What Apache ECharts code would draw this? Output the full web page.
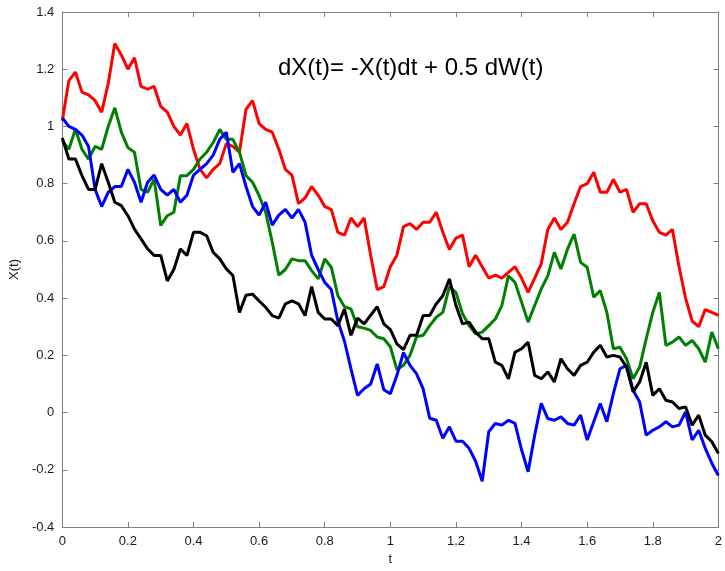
<!DOCTYPE html>
<html>
<head>
<meta charset="utf-8">
<script src="https://cdn.jsdelivr.net/npm/echarts@6/dist/echarts.min.js"></script>
<style>
  html, body { margin: 0; padding: 0; background: #fff; }
  #chart { width: 725px; height: 571px; }
</style>
</head>
<body>
<div id="chart"></div>
<script>
// Four sample paths of dX(t) = -X(t)dt + 0.5 dW(t), sampled every 0.02 on [0, 2]
const T_STEP = 0.02;
const T_COUNT = 101;

const redPath = [
  1.02, 1.16, 1.19, 1.12, 1.11, 1.09, 1.05, 1.15, 1.29, 1.25,
  1.20, 1.24, 1.14, 1.13, 1.14, 1.07, 1.05, 1.00, 0.97, 1.01,
  0.92, 0.85, 0.82, 0.85, 0.87, 0.94, 0.93, 0.91, 1.06, 1.09,
  1.01, 0.99, 0.98, 0.92, 0.85, 0.83, 0.73, 0.75, 0.79, 0.76,
  0.72, 0.71, 0.63, 0.62, 0.68, 0.65, 0.68, 0.55, 0.43, 0.44,
  0.51, 0.55, 0.65, 0.66, 0.64, 0.665, 0.665, 0.70, 0.63, 0.57,
  0.61, 0.62, 0.51, 0.55, 0.51, 0.47, 0.48, 0.47, 0.49, 0.51,
  0.47, 0.42, 0.47, 0.52, 0.64, 0.68, 0.64, 0.665, 0.73, 0.79,
  0.80, 0.84, 0.77, 0.77, 0.815, 0.77, 0.78, 0.70, 0.73, 0.73,
  0.67, 0.63, 0.62, 0.64, 0.51, 0.40, 0.32, 0.30, 0.36, 0.35,
  0.34
];

const greenPath = [
  0.95, 0.92, 0.99, 0.92, 0.886, 0.93, 0.92, 1.00, 1.065, 0.98,
  0.926, 0.91, 0.78, 0.77, 0.816, 0.654, 0.688, 0.70, 0.828, 0.828,
  0.85, 0.886, 0.91, 0.944, 0.99, 0.955, 0.955, 0.91, 0.828, 0.805,
  0.758, 0.70, 0.595, 0.48, 0.50, 0.537, 0.531, 0.531, 0.496, 0.467,
  0.537, 0.508, 0.409, 0.37, 0.362, 0.30, 0.295, 0.287, 0.264, 0.258,
  0.23, 0.15, 0.165, 0.20, 0.265, 0.27, 0.304, 0.333, 0.35, 0.44,
  0.42, 0.345, 0.304, 0.275, 0.281, 0.304, 0.327, 0.374, 0.478, 0.455,
  0.386, 0.316, 0.374, 0.432, 0.478, 0.56, 0.502, 0.571, 0.624, 0.525,
  0.508, 0.403, 0.426, 0.35, 0.223, 0.228, 0.188, 0.118, 0.159, 0.258,
  0.35, 0.42, 0.235, 0.246, 0.264, 0.235, 0.252, 0.223, 0.176, 0.281,
  0.223
];

const bluePath = [
  1.03, 1.00, 0.99, 0.97, 0.93, 0.78, 0.72, 0.77, 0.79, 0.79,
  0.85, 0.805, 0.735, 0.805, 0.83, 0.78, 0.76, 0.78, 0.735, 0.76,
  0.83, 0.85, 0.87, 0.90, 0.955, 0.98, 0.84, 0.87, 0.79, 0.72,
  0.69, 0.735, 0.655, 0.69, 0.71, 0.68, 0.71, 0.665, 0.55, 0.50,
  0.455, 0.43, 0.32, 0.25, 0.153, 0.06, 0.083, 0.10, 0.17, 0.08,
  0.066, 0.13, 0.21, 0.165, 0.135, 0.083, -0.02, -0.027, -0.09, -0.05,
  -0.10, -0.10, -0.125, -0.17, -0.24, -0.067, -0.038, -0.044, -0.027, -0.038,
  -0.13, -0.207, -0.079, 0.032, -0.021, -0.027, -0.015, -0.038, -0.044, -0.009,
  -0.096, -0.032, 0.032, -0.032, 0.067, 0.153, 0.165, 0.078, 0.037, -0.079,
  -0.062, -0.05, -0.032, -0.05, -0.044, 0.002, -0.096, -0.062, -0.125, -0.177,
  -0.22
];

const blackPath = [
  0.96, 0.886, 0.886, 0.828, 0.78, 0.78, 0.87, 0.805, 0.735, 0.723,
  0.688, 0.641, 0.607, 0.572, 0.549, 0.549, 0.46, 0.50, 0.572, 0.549,
  0.63, 0.63, 0.618, 0.56, 0.537, 0.502, 0.479, 0.35, 0.41, 0.414,
  0.39, 0.368, 0.339, 0.33, 0.38, 0.39, 0.38, 0.339, 0.44, 0.35,
  0.327, 0.327, 0.304, 0.362, 0.27, 0.33, 0.31, 0.34, 0.37, 0.31,
  0.29, 0.24, 0.22, 0.27, 0.27, 0.339, 0.339, 0.38, 0.408, 0.467,
  0.374, 0.31, 0.316, 0.281, 0.258, 0.258, 0.176, 0.165, 0.118, 0.211,
  0.223, 0.246, 0.13, 0.118, 0.142, 0.107, 0.188, 0.153, 0.13, 0.165,
  0.176, 0.211, 0.235, 0.194, 0.20, 0.194, 0.159, 0.072, 0.107, 0.176,
  0.06, 0.083, 0.043, 0.037, 0.014, 0.02, -0.044, -0.009, -0.079, -0.102,
  -0.143
];

const equationText = 'dX(t)= -X(t)dt + 0.5 dW(t)';
const xTicks = { min: 0, max: 2, step: 0.2 };
const yTicks = { min: -0.4, max: 1.4, step: 0.2 };

const tGrid = Array.from({ length: T_COUNT }, (_, i) => +(i * T_STEP).toFixed(2));
const pairs = vals => tGrid.map((t, i) => [t, vals[i]]);

const axisGray = '#7f7f7f';
const labelColor = '#1a1a1a';
const font = 'Liberation Sans, Arial, Helvetica, sans-serif';

function pathSeries(name, color, vals) {
  return {
    name, type: 'line', data: pairs(vals),
    showSymbol: false, symbol: 'none',
    lineStyle: { color, width: 3 },
    emphasis: { disabled: true },
    animation: false
  };
}

const chart = echarts.init(document.getElementById('chart'), null, { renderer: 'canvas' });
chart.setOption({
  backgroundColor: '#fff',
  animation: false,
  title: {
    text: equationText,
    left: 273, top: 51,
    textStyle: { fontFamily: font, fontSize: 24, fontWeight: 'normal', color: '#000' }
  },
  grid: { left: 62, right: 3, top: 12, bottom: 39, containLabel: false },
  xAxis: [{
    type: 'value', min: xTicks.min, max: xTicks.max, interval: xTicks.step,
    name: 't', nameLocation: 'middle', nameGap: 26,
    nameTextStyle: { fontFamily: font, fontSize: 13, color: labelColor },
    axisLine: { onZero: false, lineStyle: { color: axisGray, width: 1 } },
    axisTick: { inside: true, length: 5, lineStyle: { color: axisGray } },
    axisLabel: { fontFamily: font, fontSize: 13, color: labelColor, margin: 8,
      formatter: v => String(+v.toFixed(1)) },
    splitLine: { show: false }
  }, {
    type: 'value', position: 'top', min: xTicks.min, max: xTicks.max, interval: xTicks.step,
    axisLine: { onZero: false, lineStyle: { color: axisGray, width: 1 } },
    axisTick: { inside: true, length: 5, lineStyle: { color: axisGray } },
    axisLabel: { show: false }, splitLine: { show: false }
  }],
  yAxis: [{
    type: 'value', min: yTicks.min, max: yTicks.max, interval: yTicks.step,
    name: 'X(t)', nameLocation: 'middle', nameGap: 34, nameRotate: 90,
    nameTextStyle: { fontFamily: font, fontSize: 13, color: labelColor },
    axisLine: { onZero: false, lineStyle: { color: axisGray, width: 1 } },
    axisTick: { inside: true, length: 5, lineStyle: { color: axisGray } },
    axisLabel: { fontFamily: font, fontSize: 13, color: labelColor, margin: 8,
      formatter: v => String(+v.toFixed(1)) },
    splitLine: { show: false }
  }, {
    type: 'value', position: 'right', min: yTicks.min, max: yTicks.max, interval: yTicks.step,
    axisLine: { show: true, onZero: false, lineStyle: { color: axisGray, width: 1 } },
    axisTick: { show: true, inside: true, length: 5, lineStyle: { color: axisGray } },
    axisLabel: { show: false }, splitLine: { show: false }
  }],
  series: [
    pathSeries('red', '#ff0000', redPath),
    pathSeries('green', '#008000', greenPath),
    pathSeries('blue', '#0000ff', bluePath),
    pathSeries('black', '#000000', blackPath)
  ]
});
</script>
</body>
</html>
